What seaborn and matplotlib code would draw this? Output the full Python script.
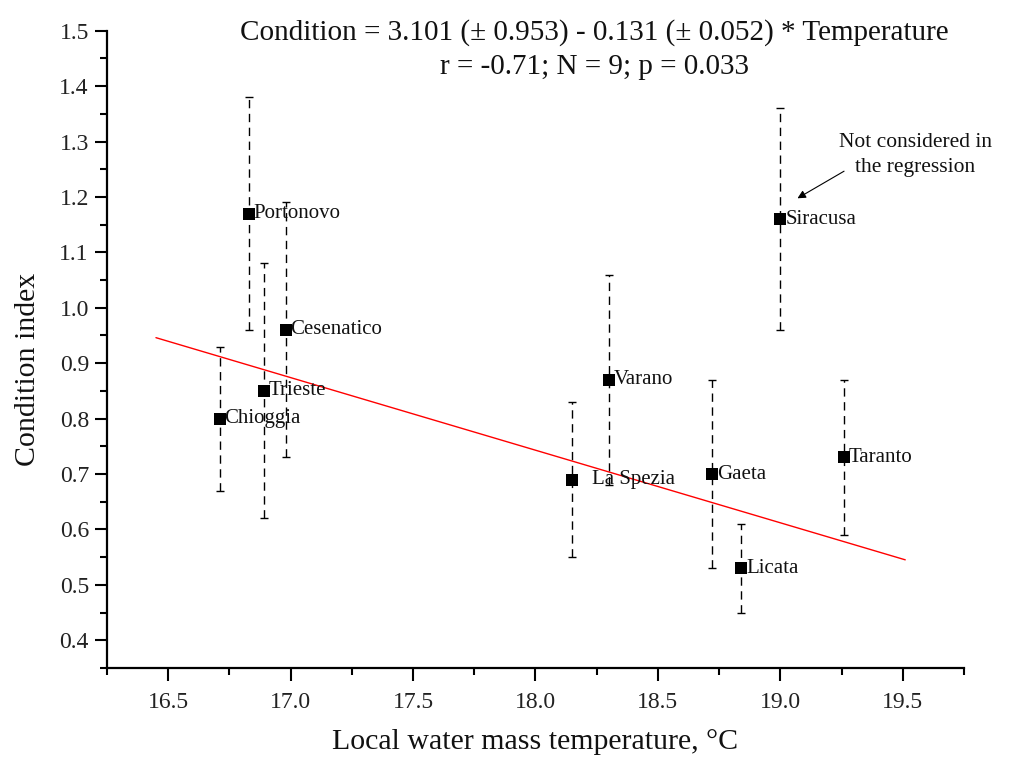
import matplotlib
matplotlib.use("Agg")
import matplotlib.pyplot as plt
from matplotlib.ticker import MultipleLocator, FormatStrFormatter
import seaborn as sns
import numpy as np
import pandas as pd

# ---- data ----
sites = ["Portonovo", "Cesenatico", "Trieste", "Chioggia", "La Spezia",
         "Varano", "Gaeta", "Licata", "Taranto", "Siracusa"]
temperature = [16.83, 16.98, 16.89, 16.71, 18.15, 18.30, 18.72, 18.84, 19.26, 19.00]
condition = [1.17, 0.96, 0.85, 0.80, 0.69, 0.87, 0.70, 0.53, 0.73, 1.16]
err_upper = [1.38, 1.19, 1.08, 0.93, 0.83, 1.06, 0.87, 0.61, 0.87, 1.36]
err_lower = [0.96, 0.73, 0.62, 0.67, 0.55, 0.68, 0.53, 0.45, 0.59, 0.96]

fit_intercept = 3.101
fit_slope = -0.131
fit_x_range = [16.45, 19.51]

title_lines = ["Condition = 3.101 (\u00b1 0.953) - 0.131 (\u00b1 0.052) * Temperature",
               "r = -0.71; N = 9; p = 0.033"]
note_text = "Not considered in\nthe regression"

df = pd.DataFrame({"site": sites, "temp": temperature, "cond": condition,
                   "hi": err_upper, "lo": err_lower})
fit_df = pd.DataFrame({"temp": fit_x_range})
fit_df["cond"] = fit_intercept + fit_slope * fit_df["temp"]

# ---- style ----
sns.set_theme(style="ticks")
plt.rcParams["font.family"] = ["Liberation Serif", "DejaVu Serif"]

fig = plt.figure(figsize=(10.14, 7.65), dpi=100)
ax = fig.add_axes([0.1055, 0.1268, 0.9507 - 0.1055, 0.9599 - 0.1268])

# error bars (dashed)
yerr = np.array([df["cond"] - df["lo"], df["hi"] - df["cond"]])
eb = ax.errorbar(df["temp"], df["cond"], yerr=yerr, fmt="none", ecolor="black",
                 elinewidth=1.0, capsize=3, capthick=1.0, zorder=2)
for lc in eb[2]:
    lc.set_linestyle((0, (6, 4)))

# regression line
sns.lineplot(data=fit_df, x="temp", y="cond", color="red", linewidth=1.0, ax=ax, zorder=3)

# markers
sns.scatterplot(data=df, x="temp", y="cond", marker="s", s=85, color="black",
                edgecolor="black", linewidth=0, ax=ax, zorder=4)

# point labels
for s, t, c in zip(sites, temperature, condition):
    dx = 14 if s == "La Spezia" else 3.5
    ax.annotate(s, (t, c), xytext=(dx, 0), textcoords="offset points",
                ha="left", va="center", fontsize=15, color="#111111", zorder=5)

# title text inside plot
ax.text(18.24, 1.466, "\n".join(title_lines), ha="center", va="center",
        fontsize=21, linespacing=1.42, color="#111111")

# annotation with arrow
ax.annotate("", xy=(19.06, 1.195), xytext=(19.27, 1.249),
            arrowprops=dict(arrowstyle="-|>", color="black", lw=0.8,
                            mutation_scale=12))
ax.text(19.55, 1.276, note_text, ha="center", va="center", fontsize=15.5,
        linespacing=1.45, color="#111111")

# axes
ax.set_xlim(16.25, 19.75)
ax.set_ylim(0.35, 1.5)
ax.xaxis.set_major_locator(MultipleLocator(0.5))
ax.xaxis.set_minor_locator(MultipleLocator(0.25))
ax.yaxis.set_major_locator(MultipleLocator(0.1))
ax.yaxis.set_minor_locator(MultipleLocator(0.05))
ax.xaxis.set_major_formatter(FormatStrFormatter("%.1f"))
ax.yaxis.set_major_formatter(FormatStrFormatter("%.1f"))
ax.tick_params(which="major", direction="out", length=9, width=1.5,
               labelsize=17, color="black", labelcolor="#222222")
ax.tick_params(which="minor", direction="out", length=5, width=1.5, color="black")
ax.tick_params(axis="x", pad=8)
ax.tick_params(axis="y", pad=4)
for side in ["top", "right"]:
    ax.spines[side].set_visible(False)
for side in ["left", "bottom"]:
    ax.spines[side].set_linewidth(1.6)
    ax.spines[side].set_color("black")

ax.set_xlabel("Local water mass temperature, \u00b0C", fontsize=21.5, labelpad=12,
              color="#111111")
ax.set_ylabel("Condition index", fontsize=21.5, color="#111111")
ax.yaxis.set_label_coords(-0.077, 0.468)

fig.savefig("out.png", dpi=100)
